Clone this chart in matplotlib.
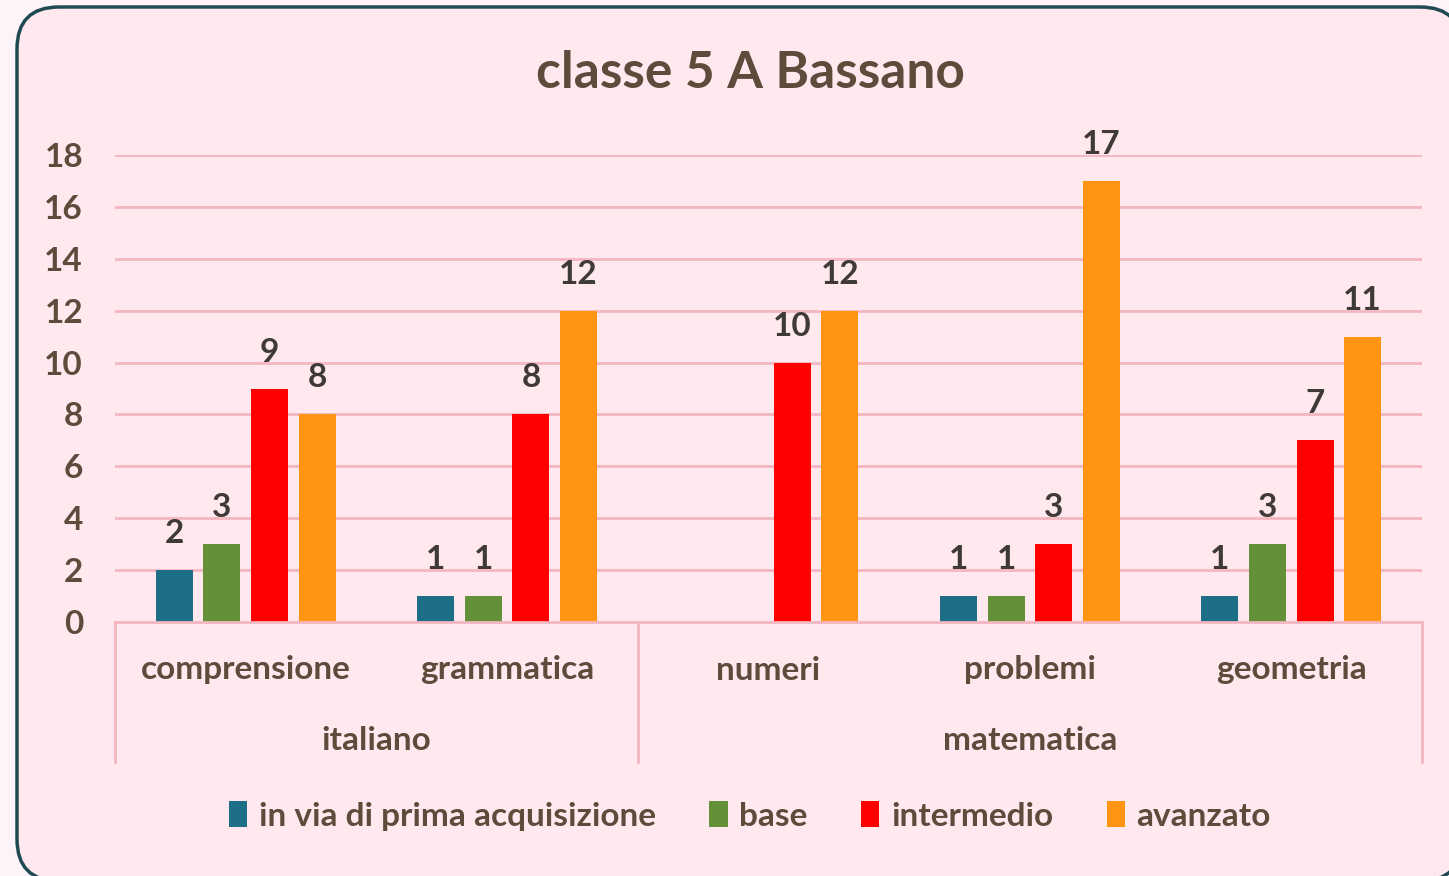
import matplotlib
matplotlib.use("Agg")
import matplotlib.pyplot as plt
from matplotlib.patches import FancyBboxPatch, Patch
from matplotlib.transforms import IdentityTransform
import numpy as np

subcategories = ["comprensione", "grammatica", "numeri", "problemi", "geometria"]
groups = ["italiano", "matematica"]
group_spans = [(0, 1), (2, 4)]
series_names = ["in via di prima acquisizione", "base", "intermedio", "avanzato"]
in_via = [2, 1, 0, 1, 1]
base = [3, 1, 0, 1, 3]
intermedio = [9, 8, 10, 3, 7]
avanzato = [8, 12, 12, 17, 11]
colors = ["#1F6E87", "#65903A", "#FF0000", "#FF9512"]
yticks = [0, 2, 4, 6, 8, 10, 12, 14, 16, 18]
title = "classe 5 A Bassano"

FONT = "Lato"
TXT = "#5E4B3C"
LBL = "#3F3A36"
GRID = "#F4B6C0"
FS = 24

W, H = 1449, 876
fig = plt.figure(figsize=(W / 100, H / 100), dpi=100)
fig.patch.set_facecolor("#FDF4FA")

# rounded chart frame in pixel coordinates (cropped at right/bottom)
frame = FancyBboxPatch((17, H - 881), 1462 - 17, 881 - 7,
                       boxstyle="round,pad=0,rounding_size=42",
                       transform=IdentityTransform(), facecolor="#FFE9EE",
                       edgecolor="#1F4A52", linewidth=2.5, zorder=-5)
fig.patches.append(frame)

ax = fig.add_axes([115 / W, 1 - 622 / H, (1422 - 115) / W, (622 - 155) / H])
ax.set_facecolor("none")
ax.set_zorder(2)

data = [in_via, base, intermedio, avanzato]
x = np.arange(len(subcategories))
step = 0.182
width = 0.142
for i, (vals, c, name) in enumerate(zip(data, colors, series_names)):
    pos = x + (i - 1.5) * step
    ax.bar(pos, vals, width=width, color=c, label=name, zorder=3)
    for p, v in zip(pos, vals):
        if v > 0:
            ax.text(p, v + 1.04, str(v), ha="center", va="baseline",
                    fontsize=FS, fontweight="bold", color=LBL, family=FONT)

ax.set_xlim(-0.5, len(subcategories) - 0.5)
ax.set_ylim(0, 18)
ax.set_yticks(yticks)
ax.set_yticklabels([str(t) for t in yticks], fontsize=FS, fontweight="bold",
                   color=TXT, family=FONT)
ax.tick_params(axis="y", length=0, pad=23)
ax.set_xticks([])
for s in ["left", "right", "top"]:
    ax.spines[s].set_visible(False)
ax.spines["bottom"].set_color(GRID)
ax.spines["bottom"].set_linewidth(2)
ax.spines["bottom"].set_zorder(4)
for t in yticks[1:]:
    ax.axhline(t, color=GRID, linewidth=2, zorder=1)

trans = ax.get_xaxis_transform()
sub_y = (622 - 670) / 467
grp_y = (622 - 740) / 467
sep_y = (622 - 762) / 467
for xi, name in zip(x, subcategories):
    ax.text(xi, sub_y, name, transform=trans, ha="center", va="center",
            fontsize=FS, fontweight="bold", color=TXT, family=FONT)
for name, (a, b) in zip(groups, group_spans):
    ax.text((a + b) / 2, grp_y, name, transform=trans, ha="center", va="center",
            fontsize=FS, fontweight="bold", color=TXT, family=FONT)
for xs in [-0.5, 1.5, len(subcategories) - 0.5]:
    ax.plot([xs, xs], [0, sep_y], transform=trans, color=GRID, linewidth=2,
            clip_on=False, zorder=4)

fig.text(750 / W, 1 - 73 / H, title, ha="center", va="center", fontsize=37,
         fontweight="bold", color=TXT, family=FONT)

handles = [Patch(facecolor=c, label=n) for c, n in zip(colors, series_names)]
leg = fig.legend(handles=handles, loc="center", bbox_to_anchor=(750 / W, 1 - 816 / H),
                 ncol=4, frameon=False, handlelength=0.55, handleheight=0.8,
                 handletextpad=0.35, columnspacing=1.6,
                 prop={"family": FONT, "weight": "bold", "size": FS})
for t in leg.get_texts():
    t.set_color(TXT)

fig.savefig("out.png", dpi=100, facecolor=fig.get_facecolor())
